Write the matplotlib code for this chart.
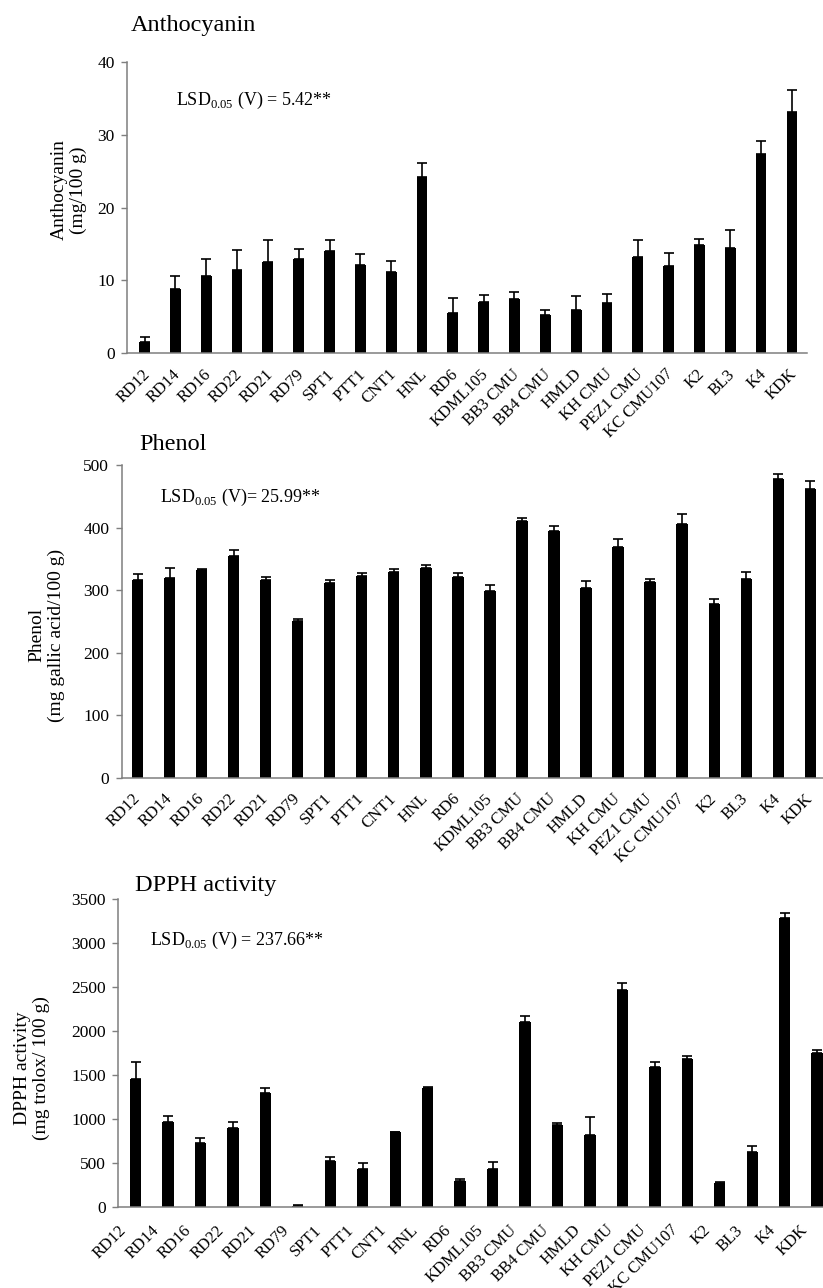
#import libraries
import numpy as np
import matplotlib
matplotlib.use('Agg')
import matplotlib.pyplot as plt
from matplotlib.transforms import ScaledTranslation

#fonts - Times-like serif everywhere
plt.rcParams['font.family'] = ['Liberation Serif', 'DejaVu Serif']
plt.rcParams['mathtext.fontset'] = 'custom'
plt.rcParams['mathtext.rm'] = 'Liberation Serif'

#varieties (x axis)
varieties = ['RD12', 'RD14', 'RD16', 'RD22', 'RD21', 'RD79', 'SPT1', 'PTT1', 'CNT1', 'HNL',
             'RD6', 'KDML105', 'BB3 CMU', 'BB4 CMU', 'HMLD', 'KH CMU', 'PEZ1 CMU',
             'KC CMU107', 'K2', 'BL3', 'K4', 'KDK']

#anthocyanin (mg/100 g) and upper error
antho = [1.5, 8.8, 10.6, 11.4, 12.6, 13.0, 14.0, 12.1, 11.1, 24.2,
         5.5, 7.05, 7.4, 5.3, 6.0, 6.9, 13.2, 12.05, 14.9, 14.4, 27.3, 33.1]
antho_err = [0.7, 1.8, 2.4, 2.8, 3.0, 1.3, 1.6, 1.5, 1.6, 1.9,
             2.1, 0.95, 1.0, 0.6, 1.8, 1.2, 2.4, 1.7, 0.8, 2.5, 1.9, 3.1]

#phenol (mg gallic acid/100 g)
phenol = [316, 320, 332, 354, 316, 251, 312, 323, 329, 336,
          321, 298, 410, 395, 304, 369, 313, 406, 277, 318, 478, 462]
phenol_err = [9, 15, 1, 10, 5, 3, 4, 4, 5, 4,
              7, 10, 5, 7, 10, 12, 5, 15, 8, 11, 7, 12]

#DPPH activity (mg trolox/100 g)
dpph = [1455, 966, 731, 902, 1292, 10, 530, 432, 852, 1360,
        299, 432, 2106, 932, 822, 2466, 1598, 1689, 277, 625, 3287, 1750]
dpph_err = [200, 72, 53, 72, 68, 15, 46, 76, 5, 5,
            23, 87, 68, 23, 200, 83, 57, 34, 15, 68, 54, 38]

W, H = 823, 1288
fig = plt.figure(figsize=(W / 100, H / 100), dpi=100)

#(left, bottom, right, top) in pixels, xlim, ylim, ticks, title, ylabel, lsd text
panels = [
    dict(box=(127.3, 353.3, 806.7, 62), xlim=(-0.56, 21.48), ylim=(0, 40), ticks=np.arange(0, 41, 10),
         vals=antho, err=antho_err, title='Anthocyanin', title_xy=(131, 25), lab_off=(-3, 13),
         ylabel='Anthocyanin\n(mg/100 g)', ylabel_xy=(69, 190),
         lsd=r'LSD$_{\mathregular{0.05}}$ (V) = 5.42**', lsd_xy=(176, 100)),
    dict(box=(121.7, 777.7, 823, 465), xlim=(-0.5, 21.4), ylim=(0, 500), ticks=np.arange(0, 501, 100),
         vals=phenol, err=phenol_err, title='Phenol', title_xy=(139, 445), lab_off=(-6, 13),
         ylabel='Phenol\n(mg gallic acid/100 g)', ylabel_xy=(47, 635),
         lsd=r'LSD$_{\mathregular{0.05}}$ (V)= 25.99**', lsd_xy=(160, 497)),
    dict(box=(118.3, 1207.3, 823, 899), xlim=(-0.53, 21.18), ylim=(0, 3500), ticks=np.arange(0, 3501, 500),
         vals=dpph, err=dpph_err, title='DPPH activity', title_xy=(135, 886), lab_off=(-17, 15),
         ylabel='DPPH activity\n(mg trolox/ 100 g)', ylabel_xy=(32, 1068),
         lsd=r'LSD$_{\mathregular{0.05}}$ (V) = 237.66**', lsd_xy=(150, 940)),
]

x = np.arange(len(varieties))
for p in panels:
    l, b, r, t = p['box']
    ax = fig.add_axes([l / W, 1 - b / H, (r - l) / W, (b - t) / H])
    ax.bar(x, p['vals'], width=0.35, color='black',
           yerr=[np.zeros(len(x)), p['err']], error_kw=dict(ecolor='black', elinewidth=1.2, capsize=3.5, capthick=1.2))
    ax.set_xlim(*p['xlim'])
    ax.set_ylim(*p['ylim'])
    ax.set_yticks(p['ticks'])
    ax.set_xticks(x)
    ax.set_xticklabels([])
    #rotated category labels, shifted a little like the original
    dx, dy = p['lab_off']
    tr = ax.get_xaxis_transform() + ScaledTranslation(dx / 100, -dy / 100, fig.dpi_scale_trans)
    for xi, name in zip(x, varieties):
        ax.text(xi, 0, name, transform=tr, rotation=45, ha='right', va='top',
                rotation_mode='anchor', fontsize=12, clip_on=False)
    ax.tick_params(axis='x', length=0)
    ax.tick_params(axis='y', length=4, width=1, color='#7f7f7f', labelsize=12.5, pad=5)
    for s in ['top', 'right']:
        ax.spines[s].set_visible(False)
    for s in ['left', 'bottom']:
        ax.spines[s].set_color('#7f7f7f')
        ax.spines[s].set_linewidth(1.1)
    #titles, y labels and LSD notes
    fig.text(p['title_xy'][0] / W, 1 - p['title_xy'][1] / H, p['title'], fontsize=17.5, va='center', ha='left')
    fig.text(p['ylabel_xy'][0] / W, 1 - p['ylabel_xy'][1] / H, p['ylabel'], fontsize=14, rotation=90,
             va='center', ha='center', multialignment='center')
    fig.text(p['lsd_xy'][0] / W, 1 - p['lsd_xy'][1] / H, p['lsd'], fontsize=13, va='center', ha='left')

fig.savefig('out.png', dpi=100)
